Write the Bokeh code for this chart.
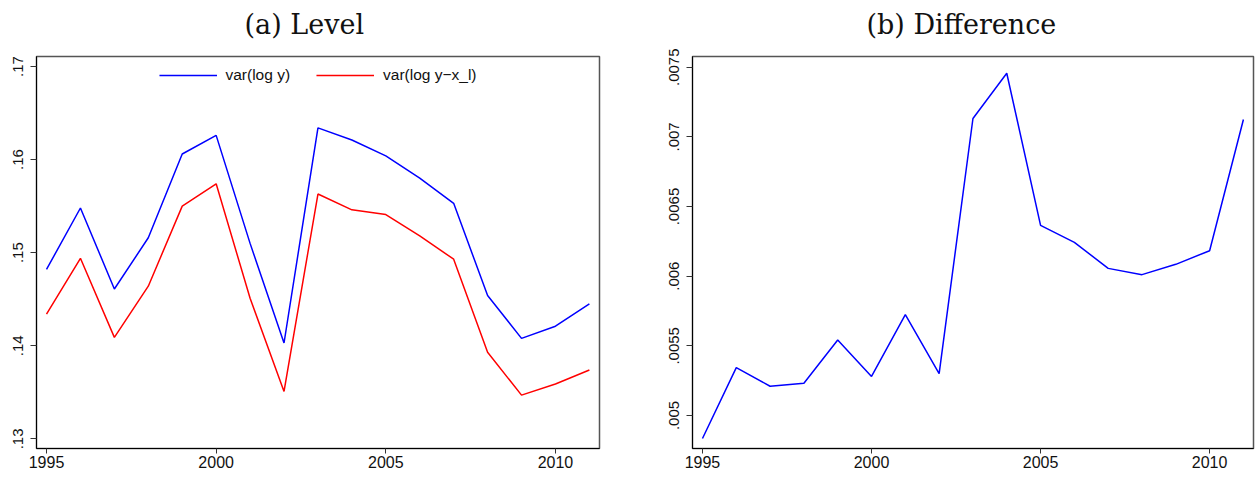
from bokeh.plotting import figure
from bokeh.layouts import row
from bokeh.models import Range1d, FixedTicker, Legend, LegendItem, Title
from bokeh.embed import file_html
from bokeh.resources import INLINE

# ---- data ----
years = list(range(1995, 2012))
var_log_y = [0.1482, 0.1548, 0.1461, 0.1516, 0.1606, 0.1626, 0.1510, 0.1403, 0.1634,
             0.1621, 0.1604, 0.1580, 0.1553, 0.1454, 0.1408, 0.1421, 0.1445]
var_log_y_xl = [0.1434, 0.1494, 0.1409, 0.1464, 0.1550, 0.1574, 0.1451, 0.1351, 0.1563,
                0.1546, 0.1541, 0.1518, 0.1493, 0.1393, 0.1347, 0.1359, 0.1374]
difference = [0.004835, 0.005344, 0.005210, 0.005232, 0.005542, 0.005280, 0.005724, 0.005301,
              0.007132, 0.007457, 0.006365, 0.006243, 0.006056, 0.006011, 0.006085, 0.006183,
              0.007125]

x_ticks = [1995, 2000, 2005, 2010]
level_ticks = [0.13, 0.14, 0.15, 0.16, 0.17]
level_labels = [".13", ".14", ".15", ".16", ".17"]
diff_ticks = [0.005, 0.0055, 0.006, 0.0065, 0.007, 0.0075]
diff_labels = [".005", ".0055", ".006", ".0065", ".007", ".0075"]

titles = ["(a) Level", "(b) Difference"]
legend_labels = ["var(log y)", "var(log y\u2212x_l)"]

SANS = "Liberation Sans"


def make_fig(title, yrange, yticks, ylabels, border_left, border_right, fw, title_offset):
    p = figure(output_backend="svg", toolbar_location=None,
               frame_width=fw, frame_height=392,
               min_border_left=border_left, min_border_right=border_right,
               min_border_top=56, min_border_bottom=20,
               x_range=Range1d(1994.705, 2011.298), y_range=yrange,
               background_fill_color="white", border_fill_color="white")
    # spacer between the frame and the title
    p.add_layout(Title(text=" ", text_font_size="4px", standoff=10), "above")
    p.title.text = title
    p.title.align = "left"
    p.title.text_font = "DejaVu Serif"
    p.title.text_font_size = "27px"
    p.title.text_font_style = "normal"
    p.title.text_color = "#111111"
    p.title.offset = title_offset
    p.title.standoff = 0
    p.grid.visible = False
    p.outline_line_color = "#555555"
    p.outline_line_width = 1.5

    xa = p.xaxis[0]
    xa.ticker = FixedTicker(ticks=x_ticks)
    xa.major_label_text_font = SANS
    xa.major_label_text_font_size = "16px"
    xa.major_label_text_color = "#111111"
    xa.major_label_standoff = 2
    xa.major_tick_out = 5
    xa.major_tick_in = 0
    xa.minor_tick_out = 0
    xa.minor_tick_in = 0
    xa.axis_line_color = "black"
    xa.major_tick_line_color = "#333333"

    ya = p.yaxis[0]
    ya.ticker = FixedTicker(ticks=yticks)
    ya.major_label_overrides = {t: l for t, l in zip(yticks, ylabels)}
    ya.major_label_orientation = "vertical"
    ya.major_label_text_font = SANS
    ya.major_label_text_font_size = "15px"
    ya.major_label_text_color = "#111111"
    ya.major_label_standoff = 7
    ya.major_tick_out = 6
    ya.major_tick_in = 0
    ya.minor_tick_out = 0
    ya.minor_tick_in = 0
    ya.axis_line_color = "black"
    ya.major_tick_line_color = "#333333"
    return p


p1 = make_fig(titles[0], Range1d(0.12897, 0.17107), level_ticks, level_labels, 36, 57, 563, 208)
r1 = p1.line(years, var_log_y, line_color="#0000ff", line_width=1.5)
r2 = p1.line(years, var_log_y_xl, line_color="#ff0000", line_width=1.5)
legend = Legend(items=[LegendItem(label=legend_labels[0], renderers=[r1]),
                       LegendItem(label=legend_labels[1], renderers=[r2])],
                orientation="horizontal", location="top_center",
                glyph_width=58, glyph_height=20, label_standoff=9, spacing=26,
                margin=1, padding=8, border_line_alpha=0, background_fill_alpha=0,
                label_text_font=SANS, label_text_font_size="15.5px", label_text_color="#111111")
p1.add_layout(legend)

p2 = make_fig(titles[1], Range1d(0.004763, 0.007577), diff_ticks, diff_labels, 36, 5, 561, 174)
p2.line(years, difference, line_color="#0000ff", line_width=1.5)

layout = row(p1, p2)
open("out.html", "w").write(file_html(layout, INLINE))
